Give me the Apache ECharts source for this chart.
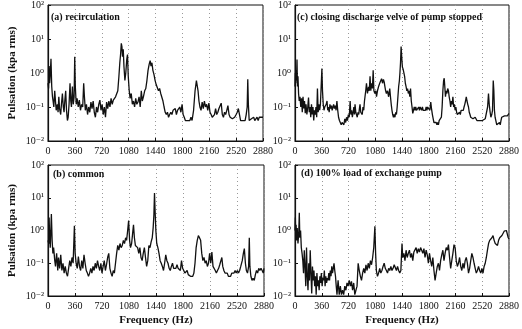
<!DOCTYPE html>
<html>
<head>
<meta charset="utf-8">
<script src="https://cdn.jsdelivr.net/npm/echarts@6/dist/echarts.min.js"></script>
<style>
    html, body { margin: 0; padding: 0; background: #fff; }
    #chart { width: 522px; height: 329px; }
</style>
</head>
<body>
<div id="chart"></div>
<script>
// x ticks (Hz) and y tick labels (decades)
const freqTicks = [0, 360, 720, 1080, 1440, 1800, 2160, 2520, 2880];
const decadeLabels = ['10⁻²', '10⁻¹', '10⁰', '10¹', '10²'];

const panelTitles = [
    '(a) recirculation',
    '(c) closing discharge velve of pump stopped',
    '(b) common',
    '(d) 100% load of exchange pump'
];

// (a) recirculation: [Hz, kPa rms]
const recirculation = [
    [0,0.5],[8,0.35],[15,1.6],[22,0.5],[30,0.9],[40,2.6],[50,0.4],[60,0.2],[68,0.15],[78,0.1],[90,0.3],[100,0.15],
    [110,0.08],[125,0.12],[135,0.07],[145,0.2],[155,0.09],[170,0.06],[180,0.12],[193,0.25],[205,0.1],[215,0.07],
    [225,0.15],[237,0.3],[248,0.08],[260,0.04],[270,0.05],[282,0.12],[295,0.5],[305,0.15],[314,0.1],[327,0.4],
    [338,0.12],[350,0.2],[358,3.0],[366,0.4],[378,0.12],[390,0.18],[405,0.1],[420,0.16],[435,0.08],[450,0.12],
    [465,0.1],[478,0.5],[488,0.2],[500,0.08],[515,0.12],[530,0.06],[545,0.1],[560,0.07],[575,0.14],[590,0.09],
    [605,0.15],[620,0.07],[635,0.05],[650,0.1],[665,0.07],[680,0.12],[695,0.16],[710,0.08],[725,0.12],[740,0.06],
    [755,0.1],[770,0.05],[785,0.14],[800,0.09],[815,0.15],[830,0.1],[845,0.18],[860,0.12],[875,0.16],[890,0.14],
    [905,0.2],[920,0.18],[935,0.3],[950,0.8],[962,2.0],[972,3.5],[982,7.5],[990,6.0],[998,3.0],[1008,5.0],
    [1018,1.5],[1030,0.6],[1042,1.0],[1055,2.5],[1065,3.5],[1075,0.8],[1088,0.3],[1100,0.18],[1115,0.25],[1130,0.12],
    [1145,0.15],[1160,0.1],[1175,0.18],[1190,0.12],[1205,0.14],[1220,0.2],[1235,0.1],[1250,0.3],[1263,0.15],[1278,0.2],
    [1295,0.3],[1310,0.35],[1325,0.6],[1340,1.2],[1355,1.8],[1368,2.3],[1380,1.6],[1392,2.0],[1405,1.2],[1420,0.9],
    [1435,0.6],[1450,0.45],[1465,0.5],[1480,0.3],[1495,0.35],[1510,0.25],[1525,0.28],[1540,0.15],[1555,0.1],[1570,0.07],
    [1585,0.06],[1600,0.07],[1615,0.05],[1630,0.06],[1645,0.07],[1660,0.06],[1675,0.08],[1690,0.07],[1705,0.09],
    [1720,0.06],[1735,0.08],[1750,0.07],[1765,0.1],[1780,0.07],[1796,0.12],[1810,0.06],[1825,0.05],[1840,0.04],
    [1855,0.035],[1870,0.04],[1885,0.045],[1900,0.04],[1915,0.05],[1930,0.04],[1950,0.08],[1970,0.3],[1988,0.6],
    [2000,0.55],[2010,0.3],[2022,0.15],[2035,0.1],[2050,0.08],[2065,0.14],[2080,0.09],[2095,0.15],[2110,0.1],
    [2125,0.12],[2140,0.08],[2155,0.13],[2170,0.07],[2185,0.06],[2200,0.05],[2215,0.05],[2230,0.06],[2245,0.09],
    [2260,0.06],[2275,0.07],[2290,0.09],[2305,0.08],[2320,0.13],[2335,0.06],[2350,0.05],[2365,0.07],[2380,0.06],
    [2395,0.08],[2410,0.11],[2425,0.06],[2440,0.05],[2455,0.05],[2470,0.045],[2485,0.05],[2500,0.05],[2520,0.06],
    [2535,0.07],[2550,0.09],[2565,0.06],[2580,0.04],[2595,0.035],[2610,0.04],[2625,0.035],[2640,0.04],[2655,0.06],
    [2668,0.1],[2676,0.65],[2684,0.12],[2695,0.04],[2710,0.035],[2725,0.045],[2740,0.04],[2755,0.05],[2770,0.04],
    [2785,0.045],[2800,0.05],[2815,0.04],[2830,0.05],[2845,0.045],[2860,0.05],[2880,0.05]
];

// (c) closing discharge valve of pump stopped
const valveClosing = [
    [0,0.4],[5,1.0],[10,0.5],[15,1.2],[20,0.6],[27,2.5],[33,0.4],[40,0.8],[48,0.25],[57,0.15],[67,0.2],[78,0.1],
    [88,0.18],[98,0.07],[108,0.2],[118,0.09],[128,0.15],[138,0.066],[148,0.12],[160,0.06],[172,0.1],[182,0.19],
    [192,0.07],[202,0.1],[212,0.05],[222,0.12],[232,0.06],[242,0.1],[252,0.04],[262,0.08],[272,0.06],[282,0.1],
    [292,0.05],[302,0.35],[312,0.07],[322,0.12],[332,0.08],[342,0.12],[352,0.4],[362,1.35],[370,0.3],[380,0.12],
    [390,0.08],[400,0.1],[410,0.09],[420,0.12],[431,0.15],[440,0.08],[450,0.1],[460,0.07],[470,0.12],[480,0.09],
    [490,0.11],[500,0.08],[510,0.1],[520,0.12],[530,0.09],[542,0.11],[553,0.08],[564,0.15],[575,0.08],[586,0.05],
    [598,0.04],[610,0.035],[622,0.03],[634,0.035],[646,0.04],[658,0.03],[670,0.045],[682,0.035],[694,0.05],
    [706,0.04],[718,0.06],[730,0.05],[742,0.15],[752,0.06],[762,0.08],[772,0.05],[782,0.07],[792,0.1],[800,0.06],
    [808,0.12],[818,0.07],[828,0.08],[838,0.05],[848,0.07],[858,0.06],[867,0.09],[875,0.12],[885,0.07],[895,0.08],
    [905,0.06],[915,0.1],[925,0.08],[935,0.15],[942,0.2],[952,0.3],[962,0.5],[975,0.25],[990,0.39],[1000,0.3],
    [1010,0.8],[1020,0.3],[1030,0.5],[1042,0.35],[1052,1.2],[1062,0.3],[1075,0.25],[1088,0.3],[1097,0.2],
    [1110,0.3],[1125,0.4],[1140,0.5],[1150,0.45],[1165,0.68],[1178,0.5],[1190,0.65],[1200,0.55],[1210,0.4],
    [1220,0.3],[1230,0.25],[1245,0.3],[1260,0.2],[1275,0.35],[1285,0.2],[1295,0.12],[1305,0.08],[1315,0.06],
    [1325,0.05],[1335,0.06],[1345,0.05],[1355,0.07],[1365,0.06],[1375,0.1],[1385,0.2],[1395,0.4],[1405,0.6],
    [1412,1.0],[1420,2.0],[1428,6.0],[1436,3.0],[1445,1.5],[1455,1.3],[1465,1.2],[1475,0.8],[1485,0.5],[1495,0.4],
    [1505,0.3],[1515,0.35],[1525,0.25],[1535,0.3],[1545,0.2],[1555,0.35],[1565,0.15],[1575,0.1],[1585,0.065],
    [1595,0.07],[1605,0.1],[1615,0.08],[1625,0.1],[1635,0.08],[1645,0.09],[1655,0.07],[1665,0.1],[1675,0.08],
    [1685,0.1],[1695,0.09],[1705,0.08],[1715,0.1],[1725,0.08],[1735,0.09],[1745,0.07],[1755,0.08],[1765,0.1],
    [1775,0.08],[1785,0.1],[1795,0.09],[1805,0.11],[1815,0.08],[1827,0.14],[1837,0.09],[1849,0.06],[1860,0.045],
    [1870,0.035],[1880,0.04],[1890,0.032],[1900,0.035],[1910,0.03],[1920,0.035],[1930,0.03],[1940,0.04],
    [1950,0.035],[1960,0.045],[1970,0.05],[1980,0.1],[1990,0.3],[2000,0.6],[2008,0.7],[2016,0.4],[2025,0.2],
    [2035,0.3],[2045,0.25],[2055,0.35],[2065,0.3],[2075,0.2],[2085,0.15],[2095,0.1],[2105,0.15],[2115,0.12],
    [2125,0.2],[2135,0.1],[2145,0.12],[2155,0.08],[2165,0.1],[2175,0.07],[2185,0.06],[2195,0.065],[2205,0.06],
    [2215,0.07],[2225,0.06],[2235,0.08],[2245,0.07],[2255,0.09],[2265,0.08],[2275,0.1],[2285,0.12],[2295,0.15],
    [2305,0.2],[2315,0.15],[2325,0.12],[2335,0.1],[2345,0.07],[2355,0.06],[2365,0.05],[2375,0.055],[2385,0.05],
    [2395,0.045],[2405,0.05],[2415,0.045],[2425,0.05],[2435,0.045],[2448,0.04],[2460,0.045],[2472,0.04],
    [2485,0.04],[2497,0.045],[2510,0.04],[2522,0.04],[2535,0.045],[2547,0.04],[2560,0.045],[2572,0.04],
    [2582,0.05],[2592,0.1],[2604,0.25],[2614,0.12],[2626,0.07],[2636,0.05],[2648,0.06],[2658,0.08],[2668,0.6],
    [2676,0.3],[2684,0.08],[2693,0.05],[2703,0.04],[2715,0.03],[2727,0.032],[2740,0.03],[2752,0.035],[2762,0.03],
    [2772,0.04],[2782,0.05],[2795,0.045],[2808,0.05],[2820,0.055],[2832,0.05],[2845,0.06],[2858,0.055],
    [2870,0.06],[2880,0.065]
];

// (b) common
const common = [
    [0,0.5],[10,0.4],[15,2.5],[22,0.6],[30,0.3],[45,3.2],[55,0.5],[65,0.2],[75,0.3],[90,0.12],[100,0.08],
    [115,0.2],[130,0.06],[140,0.15],[155,0.07],[170,0.18],[185,0.06],[200,0.1],[215,0.05],[230,0.08],[245,0.05],
    [260,0.04],[275,0.07],[290,0.12],[305,0.08],[320,0.15],[335,0.1],[352,1.4],[362,0.2],[375,0.1],[390,0.07],
    [405,0.16],[420,0.08],[435,0.06],[450,0.12],[465,0.07],[480,0.18],[495,0.1],[510,0.06],[525,0.05],[540,0.04],
    [555,0.05],[570,0.07],[585,0.05],[600,0.08],[615,0.06],[630,0.1],[645,0.07],[660,0.12],[675,0.08],[690,0.06],
    [705,0.1],[720,0.05],[735,0.08],[750,0.12],[765,0.06],[780,0.09],[795,0.15],[810,0.2],[825,0.07],[840,0.05],
    [855,0.04],[870,0.06],[885,0.05],[900,0.1],[915,0.2],[930,0.35],[945,0.25],[960,0.4],[975,0.3],[990,0.35],
    [1005,0.5],[1020,0.4],[1035,0.6],[1048,0.5],[1060,0.9],[1075,2.0],[1088,0.5],[1100,0.3],[1115,0.4],[1128,0.8],
    [1140,1.5],[1152,0.6],[1165,0.35],[1180,0.4],[1195,0.3],[1210,0.2],[1225,0.3],[1240,0.15],[1255,0.12],
    [1270,0.2],[1285,0.3],[1300,0.15],[1315,0.08],[1330,0.12],[1345,0.35],[1360,0.3],[1375,0.45],[1390,0.6],
    [1402,1.2],[1412,3.0],[1420,14.0],[1428,4.0],[1438,1.0],[1450,0.4],[1465,0.3],[1480,0.2],[1495,0.12],
    [1510,0.1],[1525,0.08],[1540,0.06],[1555,0.1],[1570,0.18],[1585,0.12],[1600,0.1],[1615,0.07],[1630,0.06],
    [1645,0.08],[1660,0.1],[1675,0.07],[1690,0.08],[1705,0.07],[1720,0.09],[1735,0.07],[1750,0.08],[1765,0.06],
    [1780,0.12],[1795,0.07],[1810,0.06],[1825,0.05],[1840,0.05],[1855,0.06],[1870,0.045],[1885,0.05],[1900,0.04],
    [1915,0.045],[1930,0.04],[1945,0.05],[1960,0.1],[1975,0.3],[1990,0.5],[2005,0.7],[2020,0.6],[2035,0.5],
    [2050,0.2],[2065,0.12],[2080,0.15],[2095,0.1],[2110,0.12],[2125,0.08],[2140,0.1],[2155,0.2],[2170,0.1],
    [2185,0.22],[2200,0.08],[2215,0.07],[2230,0.06],[2245,0.05],[2260,0.06],[2275,0.07],[2290,0.09],[2305,0.08],
    [2318,0.15],[2330,0.08],[2345,0.06],[2360,0.05],[2375,0.045],[2390,0.05],[2405,0.04],[2420,0.045],[2435,0.04],
    [2450,0.05],[2465,0.045],[2480,0.05],[2495,0.06],[2510,0.05],[2525,0.06],[2540,0.05],[2555,0.06],[2570,0.08],
    [2590,0.12],[2605,0.2],[2618,0.28],[2632,0.1],[2645,0.06],[2660,0.05],[2675,0.08],[2684,0.6],[2692,0.08],
    [2705,0.04],[2720,0.03],[2735,0.035],[2750,0.03],[2765,0.045],[2780,0.06],[2795,0.05],[2810,0.07],[2825,0.06],
    [2840,0.07],[2855,0.06],[2870,0.05],[2880,0.07]
];

// (d) 100% load of exchange pump
const fullLoad = [
    [0,1.0],[5,2.5],[10,0.6],[15,1.5],[22,0.5],[30,1.2],[40,0.4],[50,0.8],[58,3.5],[65,0.6],[75,1.0],[85,0.3],
    [95,0.2],[105,0.12],[115,0.05],[125,0.25],[135,0.08],[145,0.02],[155,0.3],[165,0.04],[175,0.015],[185,0.1],
    [195,0.03],[205,0.25],[215,0.05],[225,0.012],[235,0.08],[245,0.03],[255,0.06],[265,0.02],[275,0.04],[285,0.011],
    [295,0.05],[305,0.02],[315,0.03],[325,0.015],[335,0.04],[345,0.025],[355,0.05],[365,0.02],[375,0.035],[385,0.03],
    [395,0.06],[405,0.02],[415,0.04],[425,0.025],[435,0.035],[445,0.03],[455,0.05],[465,0.03],[475,0.06],[485,0.04],
    [495,0.08],[505,0.05],[515,0.07],[525,0.1],[535,0.06],[545,0.04],[555,0.02],[565,0.011],[580,0.03],[595,0.011],
    [610,0.02],[625,0.011],[640,0.015],[655,0.011],[670,0.02],[685,0.015],[700,0.025],[715,0.02],[730,0.03],
    [745,0.02],[760,0.028],[775,0.015],[790,0.025],[805,0.011],[820,0.015],[835,0.02],[850,0.1],[865,0.06],
    [880,0.04],[895,0.03],[910,0.05],[925,0.07],[940,0.05],[955,0.09],[970,0.06],[985,0.1],[1000,0.07],[1015,0.12],
    [1030,0.09],[1045,0.15],[1060,0.3],[1075,1.35],[1085,0.2],[1095,0.06],[1110,0.04],[1125,0.05],[1140,0.07],
    [1155,0.05],[1170,0.06],[1185,0.08],[1200,0.1],[1215,0.07],[1230,0.06],[1245,0.05],[1260,0.07],[1275,0.06],
    [1290,0.08],[1305,0.06],[1320,0.07],[1335,0.09],[1350,0.08],[1365,0.06],[1380,0.08],[1395,0.06],[1410,0.05],
    [1425,0.06],[1440,0.4],[1450,0.15],[1465,0.2],[1480,0.12],[1495,0.25],[1510,0.15],[1525,0.2],[1540,0.25],
    [1555,0.15],[1570,0.2],[1585,0.12],[1600,0.22],[1615,0.25],[1630,0.3],[1645,0.2],[1660,0.28],[1675,0.22],
    [1690,0.3],[1705,0.25],[1720,0.2],[1735,0.28],[1750,0.15],[1765,0.25],[1780,0.18],[1795,0.1],[1810,0.2],
    [1825,0.12],[1840,0.08],[1855,0.15],[1870,0.06],[1885,0.03],[1900,0.05],[1915,0.08],[1930,0.1],[1945,0.06],
    [1960,0.12],[1975,0.18],[1990,0.25],[2005,0.12],[2020,0.2],[2035,0.3],[2050,0.25],[2065,0.37],[2080,0.15],
    [2095,0.07],[2110,0.12],[2125,0.2],[2140,0.37],[2155,0.3],[2170,0.12],[2185,0.08],[2200,0.1],[2215,0.15],
    [2230,0.08],[2245,0.06],[2260,0.1],[2275,0.07],[2290,0.12],[2305,0.15],[2320,0.1],[2335,0.05],[2350,0.07],
    [2365,0.12],[2380,0.2],[2395,0.15],[2410,0.1],[2425,0.07],[2440,0.05],[2455,0.06],[2470,0.08],[2485,0.06],
    [2500,0.05],[2515,0.07],[2530,0.05],[2545,0.08],[2560,0.1],[2575,0.15],[2590,0.25],[2605,0.4],[2620,0.5],
    [2635,0.45],[2650,0.6],[2665,0.7],[2680,0.5],[2695,0.4],[2710,0.45],[2725,0.35],[2740,0.5],[2755,0.6],
    [2770,0.55],[2785,0.7],[2800,0.8],[2815,0.95],[2830,0.85],[2845,1.0],[2860,0.9],[2870,0.6],[2880,0.55]
];

const panelData = [recirculation, valveClosing, common, fullLoad];

const FONT = "'Liberation Serif', 'DejaVu Serif', serif";
const INK = '#111';

const grids = [
    { left: 48, top: 4, width: 215, height: 137 },
    { left: 295, top: 4, width: 216, height: 137 },
    { left: 48, top: 165, width: 216, height: 131 },
    { left: 295, top: 165, width: 216, height: 131 }
];

const titlePos = [
    { left: 51, top: 12 },
    { left: 297, top: 12 },
    { left: 53, top: 169 },
    { left: 301, top: 168 }
];

var chart = echarts.init(document.getElementById('chart'));

const option = {
    backgroundColor: '#fff',
    animation: false,
    title: panelTitles.map(function (t, i) {
        return {
            text: t,
            left: titlePos[i].left,
            top: titlePos[i].top,
            padding: 0,
            textStyle: { fontFamily: FONT, fontSize: 10, fontWeight: 'bold', color: INK }
        };
    }),
    grid: grids.map(function (g) {
        return Object.assign({ show: true, borderColor: INK, borderWidth: 1, backgroundColor: 'transparent' }, g);
    }),
    xAxis: grids.map(function (g, i) {
        return {
            gridIndex: i,
            type: 'value',
            min: freqTicks[0],
            max: freqTicks[freqTicks.length - 1],
            interval: freqTicks[1] - freqTicks[0],
            name: i >= 2 ? 'Frequency (Hz)' : '',
            nameLocation: 'middle',
            nameGap: 19,
            nameTextStyle: { fontFamily: FONT, fontSize: 11, fontWeight: 'bold', color: INK },
            axisLine: { lineStyle: { color: INK, width: 1.2 } },
            axisTick: { inside: true, length: 3, lineStyle: { color: INK } },
            axisLabel: {
                fontFamily: FONT, fontSize: 10, color: INK, margin: 5,
                showMaxLabel: true, showMinLabel: true,
                formatter: function (v) { return String(v); }
            },
            splitLine: { show: true, lineStyle: { color: '#999', type: [1, 3], width: 1 } }
        };
    }),
    yAxis: grids.map(function (g, i) {
        return {
            gridIndex: i,
            type: 'log',
            logBase: 10,
            min: 0.01,
            max: 100,
            name: (i % 2 === 0) ? 'Pulsation (kpa rms)' : '',
            nameLocation: 'middle',
            nameGap: 30,
            nameRotate: 90,
            nameTextStyle: { fontFamily: FONT, fontSize: 11, fontWeight: 'bold', color: INK },
            axisLine: { lineStyle: { color: INK, width: 1.2 } },
            axisTick: { inside: true, length: 3, lineStyle: { color: INK } },
            axisLabel: {
                fontFamily: FONT, fontSize: 10, color: INK, margin: 4,
                formatter: function (v) {
                    return decadeLabels[Math.round(Math.log10(v)) + 2];
                }
            },
            splitLine: { show: false }
        };
    }),
    series: panelData.map(function (d, i) {
        return {
            type: 'line',
            xAxisIndex: i,
            yAxisIndex: i,
            data: d,
            showSymbol: false,
            clip: true,
            lineStyle: { color: INK, width: 1.3 }
        };
    })
};

chart.setOption(option);
window.addEventListener('resize', function () {
    chart.resize();
});
</script>
</body>
</html>
